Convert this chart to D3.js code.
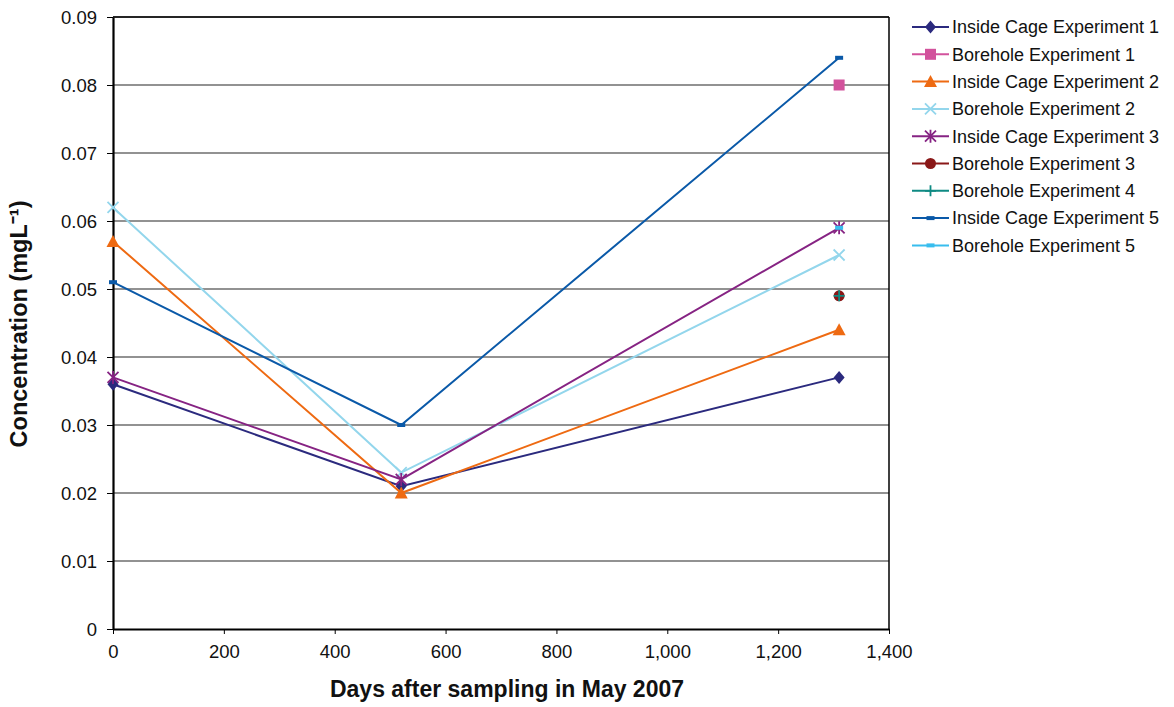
<!DOCTYPE html>
<html><head><meta charset="utf-8">
<script src="https://cdn.jsdelivr.net/npm/d3@7"></script>
<style>body{margin:0;background:#fff;font-family:"Liberation Sans",Arial,sans-serif}</style>
</head><body><svg id="c" width="1174" height="707"></svg>
<script>
const days = [0, 520, 1310];
const seriesNames = ["Inside Cage Experiment 1","Borehole Experiment 1","Inside Cage Experiment 2","Borehole Experiment 2","Inside Cage Experiment 3","Borehole Experiment 3","Borehole Experiment 4","Inside Cage Experiment 5","Borehole Experiment 5"];
const ice1 = [0.036, 0.021, 0.037];
const be1 = [null, null, 0.080];
const ice2 = [0.057, 0.020, 0.044];
const be2 = [0.062, 0.023, 0.055];
const ice3 = [0.037, 0.022, 0.059];
const be3 = [null, null, 0.049];
const be4 = [null, null, 0.049];
const ice5 = [0.051, 0.030, 0.084];
const be5 = [null, null, 0.059];
const xTicks = [0,200,400,600,800,1000,1200,1400];
const yTicks = [0,0.01,0.02,0.03,0.04,0.05,0.06,0.07,0.08,0.09];

const colors = ["#2B2A7E","#D2529C","#EE6A12","#93D6EC","#862383","#8A1818","#0E8A83","#0A59A8","#38BDEE"];
const markers = ["diamond","square","triangle","x","star","circle","plus","dash","dash"];
const allValues = [ice1,be1,ice2,be2,ice3,be3,be4,ice5,be5];

const svg = d3.select("#c");
const L=113, R=889, T=17, B=629;
const x = d3.scaleLinear().domain([0,1400]).range([L,R]);
const y = d3.scaleLinear().domain([0,0.09]).range([B,T]);

svg.append("g").selectAll("line").data(yTicks.slice(1)).join("line")
  .attr("x1",L).attr("x2",R).attr("y1",d=>y(d)).attr("y2",d=>y(d))
  .attr("stroke","#6e6e6e").attr("stroke-width",1.3);
svg.append("line").attr("x1",L).attr("x2",R).attr("y1",T).attr("y2",T).attr("stroke","#000").attr("stroke-width",1.5);
svg.append("line").attr("x1",R).attr("x2",R).attr("y1",T).attr("y2",B).attr("stroke","#000").attr("stroke-width",1.5);

const fmtX = d3.format(",");
const xa = svg.append("g").attr("transform",`translate(0,${B})`)
  .call(d3.axisBottom(x).tickValues(xTicks).tickFormat(fmtX).tickSize(5).tickSizeOuter(0));
const ya = svg.append("g").attr("transform",`translate(${L},0)`)
  .call(d3.axisLeft(y).tickValues(yTicks).tickFormat(d=>d===0?"0":d3.format(".2f")(d)).tickSize(6).tickSizeOuter(0));
[xa,ya].forEach(a=>{
  a.attr("font-size",null).attr("font-family",null);
  a.select(".domain").attr("stroke","#000").attr("stroke-width",2.2);
  a.selectAll(".tick line").attr("stroke","#000").attr("stroke-width",1);
  a.selectAll("text").style("font-family","Liberation Sans, Arial, sans-serif").style("font-size","18.5px").attr("fill","#111");
});
xa.selectAll("text").attr("y",16).attr("dy","0.71em");
ya.selectAll("text").attr("x",-16).attr("dy","0.35em");

function drawMarker(g, type, cx, cy, col){
  const s=5.5;
  if(type==="diamond") g.append("path").attr("d",`M${cx},${cy-s-1}L${cx+s},${cy}L${cx},${cy+s+1}L${cx-s},${cy}Z`).attr("fill",col);
  else if(type==="square") g.append("rect").attr("x",cx-5.5).attr("y",cy-5.5).attr("width",11).attr("height",11).attr("fill",col);
  else if(type==="triangle") g.append("path").attr("d",`M${cx},${cy-6.5}L${cx+6.5},${cy+5.5}L${cx-6.5},${cy+5.5}Z`).attr("fill",col);
  else if(type==="x") g.append("path").attr("d",`M${cx-5.5},${cy-5.5}L${cx+5.5},${cy+5.5}M${cx-5.5},${cy+5.5}L${cx+5.5},${cy-5.5}`).attr("stroke",col).attr("stroke-width",1.8);
  else if(type==="star") g.append("path").attr("d",`M${cx-5.5},${cy-5.5}L${cx+5.5},${cy+5.5}M${cx-5.5},${cy+5.5}L${cx+5.5},${cy-5.5}M${cx},${cy-6.5}L${cx},${cy+6.5}`).attr("stroke",col).attr("stroke-width",1.8);
  else if(type==="circle") g.append("circle").attr("cx",cx).attr("cy",cy).attr("r",5.5).attr("fill",col);
  else if(type==="plus") g.append("path").attr("d",`M${cx-5.5},${cy}L${cx+5.5},${cy}M${cx},${cy-5.5}L${cx},${cy+5.5}`).attr("stroke",col).attr("stroke-width",1.8);
  else if(type==="dash") g.append("rect").attr("x",cx-4).attr("y",cy-2).attr("width",8).attr("height",4).attr("fill",col);
}

const line = d3.line().defined(d=>d[1]!=null).x(d=>x(d[0])).y(d=>y(d[1]));
allValues.forEach((vals,i)=>{
  const pts = days.map((d,j)=>[d,vals[j]]);
  const g = svg.append("g");
  g.append("path").attr("d",line(pts)).attr("fill","none").attr("stroke",colors[i]).attr("stroke-width",2);
  pts.filter(p=>p[1]!=null).forEach(p=>drawMarker(g,markers[i],x(p[0]),y(p[1]),colors[i]));
});

const lg = svg.append("g");
seriesNames.forEach((n,i)=>{
  const yy = 27 + i*27.3;
  lg.append("line").attr("x1",912).attr("x2",949).attr("y1",yy).attr("y2",yy).attr("stroke",colors[i]).attr("stroke-width",2);
  drawMarker(lg, markers[i], 930.5, yy, colors[i]);
  lg.append("text").attr("x",952).attr("y",yy).attr("dy","0.35em").style("font-size","18px").attr("fill","#111").text(n);
});

svg.append("text").attr("x",(L+R)/2 + 6).attr("y",697).attr("text-anchor","middle")
  .attr("font-weight","bold").style("font-size","23px").attr("fill","#111").text("Days after sampling in May 2007");
svg.append("text").attr("transform",`translate(27,${(T+B)/2+1}) rotate(-90)`).attr("text-anchor","middle")
  .attr("font-weight","bold").style("font-size","23.5px").attr("fill","#111").text("Concentration (mgL⁻¹)");
</script></body></html>
